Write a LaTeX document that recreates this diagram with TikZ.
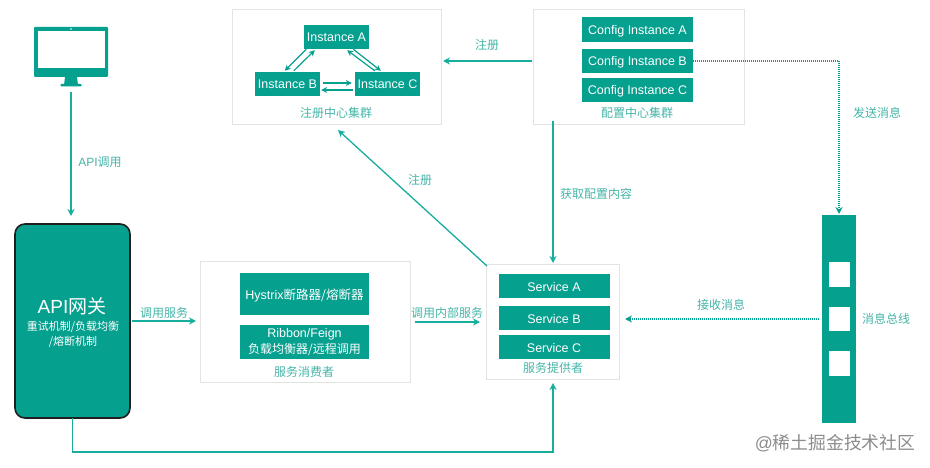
\documentclass[tikz,border=0pt]{standalone}
\usepackage{fontspec}
\setmainfont{Liberation Sans}
\newfontfamily\cjk{Noto Sans CJK SC}
\usetikzlibrary{arrows.meta}
\definecolor{tealbox}{HTML}{06A08F}
\definecolor{tealline}{HTML}{18AE9E}
\definecolor{teallabel}{HTML}{45B5A8}
\definecolor{panelline}{HTML}{E2E4E4}
\newcommand{\zh}[1]{{\cjk #1}}
\newcommand{\fs}[1]{\fontsize{#1}{#1}\selectfont}
\tikzset{
  x=1pt,y=-1pt,
  tealrect/.style={fill=tealbox,draw=none,inner sep=0pt,text=white,align=center,font=\fs{12.5}},
  oneline/.style={tealrect,text height=10pt,text depth=0pt},
  panel/.style={draw=panelline,line width=0.9pt,fill=white,inner sep=0pt},
  lbl/.style={text=teallabel,inner sep=0pt,font=\fs{12}},
  link/.style={draw=tealline,line width=1.3pt,-{Stealth[length=7pt,width=7pt]}},
  duo/.style={draw=tealbox,line width=1.2pt,-{Stealth[length=6pt,width=6pt]}},
  dotlink/.style={draw=tealbox,line width=1.2pt,dash pattern=on 1pt off 1pt,-{Stealth[length=7pt,width=7pt]}},
}
\begin{document}
\begin{tikzpicture}
\useasboundingbox (0,0) rectangle (930,468);
\fill[white] (0,0) rectangle (930,468);
% panels
\node[panel,minimum width=209pt,minimum height=115pt] (reg) at (336.5,66.5) {};
\node[panel,minimum width=211pt,minimum height=115pt] (cfg) at (638.5,66.5) {};
\node[panel,minimum width=210pt,minimum height=121pt] (con) at (305,321.5) {};
\node[panel,minimum width=133pt,minimum height=115pt] (pro) at (553,321.5) {};
% registry
\node[oneline,minimum width=65pt,minimum height=24pt] (insta) at (336.5,37) {Instance A};
\node[oneline,minimum width=65pt,minimum height=24pt] (instb) at (287.5,84) {Instance B};
\node[oneline,minimum width=65pt,minimum height=24pt] (instc) at (387.5,84) {Instance C};
\node[lbl] (reglbl) at (336,113) {\zh{注册中心集群}};
% config
\node[oneline,minimum width=111pt,minimum height=24.5pt] (cfga) at (637.5,29.5) {Config Instance A};
\node[oneline,minimum width=111pt,minimum height=24.5pt] (cfgb) at (637.5,61) {Config Instance B};
\node[oneline,minimum width=111pt,minimum height=24.5pt] (cfgc) at (637.5,90) {Config Instance C};
\node[lbl] (cfglbl) at (637,113) {\zh{配置中心集群}};
% consumer
\node[oneline,minimum width=129pt,minimum height=42pt] (hys) at (304.5,294) {Hystrix\zh{断路器/熔断器}};
\node[tealrect,minimum width=129pt,minimum height=34pt] (rib) at (304.5,342) {\fs{12.5}Ribbon/Feign\\[1.5pt]\fs{12}\zh{负载均衡器/远程调用}};
\node[lbl] (conlbl) at (304,372) {\zh{服务消费者}};
% provider
\node[oneline,minimum width=111pt,minimum height=24.5pt] (sa) at (554,286) {Service A};
\node[oneline,minimum width=111pt,minimum height=24.5pt] (sb) at (554,318) {Service B};
\node[oneline,minimum width=111pt,minimum height=24.5pt] (sc) at (554,347) {Service C};
\node[lbl] (prolbl) at (553,368) {\zh{服务提供者}};
% monitor
\node[fill=tealbox,inner sep=0pt,minimum width=74pt,minimum height=50pt,rounded corners=1pt] (mon) at (71,52) {};
\fill[white] (38,31) rectangle (105,68);
\fill[white] (71,29) circle (0.8);
\fill[tealbox] (65,77) -- (77,77) -- (78,85) -- (64,85) -- cycle;
\fill[tealbox,rounded corners=0.8pt] (60.5,84) rectangle (81.5,86.5);
% gateway
\node[fill=tealbox,draw=black!88,line width=1.6pt,rounded corners=10pt,inner sep=0pt,minimum width=115pt,minimum height=194pt] (gw) at (72.5,321) {};
\node[text=white,inner sep=0pt,font=\fs{19}] (gwt) at (72,306) {API\zh{网关}};
\node[text=white,inner sep=0pt,align=center,font=\fs{11}] (gws) at (73,334) {\zh{重试机制/负载均衡}\\[3pt]\zh{/熔断机制}};
% bus
\node[fill=tealbox,inner sep=0pt,minimum width=34pt,minimum height=208pt] (bus) at (839,319) {};
\fill[white] (829,262) rectangle (850,286.5);
\fill[white] (829,306.5) rectangle (850,331);
\fill[white] (829,351) rectangle (850,376);
\node[lbl] (buslbl) at (886,319) {\zh{消息总线}};
% helper coordinates
\coordinate (apistart) at (71,92);
\coordinate (apiend) at (71,216);
\coordinate (gw1) at (132,321);
\coordinate (gw2) at (196,321);
\coordinate (c1) at (415,322);
\coordinate (c2) at (480,322);
\coordinate (regend) at (443,61);
\coordinate (cfgout) at (532,61);
\coordinate (regup) at (338,130);
\coordinate (prodiag) at (487,266);
\coordinate (cfgdown) at (553,121);
\coordinate (protop) at (553,263);
\coordinate (gwb) at (72.5,418);
\coordinate (gwbc) at (72.5,452);
\coordinate (probc) at (553,452);
\coordinate (probot) at (553,383);
\coordinate (dotc) at (839,61);
\coordinate (busin) at (839,214);
\coordinate (busout) at (819,319);
\coordinate (proin) at (625,319);
% connectors
\draw[link] (apistart) -- (apiend);
\draw[link] (gw1) -- (gw2);
\draw[link] (c1) -- (c2);
\draw[link] (cfgout) -- (regend);
\draw[link] (prodiag) -- (regup);
\draw[link] (cfgdown) -- (protop);
\draw[link] (gwb) -- (gwbc) -- (probc) -- (probot);
\draw[dotlink] (cfgb.east) -- (dotc) -- (busin);
\draw[dotlink] (busout) -- (proin);
% instance arrows
\draw[duo] ([shift={(2.5,0)}]insta.south west) -- ([shift={(30,-1)}]instb.north west);
\draw[duo] ([shift={(39,-1)}]instb.north west) -- ([shift={(11,1)}]insta.south west);
\draw[duo] ([shift={(-16,0)}]insta.south east) -- ([shift={(26,-1)}]instc.north west);
\draw[duo] ([shift={(20,-1)}]instc.north west) -- ([shift={(-22,1)}]insta.south east);
\draw[duo] ([shift={(3,-1)}]instb.east) -- ([shift={(-3,-1)}]instc.west);
\draw[duo] ([shift={(-2,6)}]instc.west) -- ([shift={(1,6)}]instb.east);
% labels
\node[lbl] (l1) at (100,162) {API\zh{调用}};
\node[lbl] (l2) at (164,313) {\zh{调用服务}};
\node[lbl] (l3) at (447,312.5) {\zh{调用内部服务}};
\node[lbl] (l4) at (487,45) {\zh{注册}};
\node[lbl] (l5) at (420,180) {\zh{注册}};
\node[lbl] (l6) at (596,194) {\zh{获取配置内容}};
\node[lbl] (l7) at (877,113) {\zh{发送消息}};
\node[lbl] (l8) at (721,305) {\zh{接收消息}};
\node[text=black!45,inner sep=0pt,font=\fs{17.8}] (wm) at (835,443) {@\zh{稀土掘金技术社区}};
\end{tikzpicture}
\end{document}
